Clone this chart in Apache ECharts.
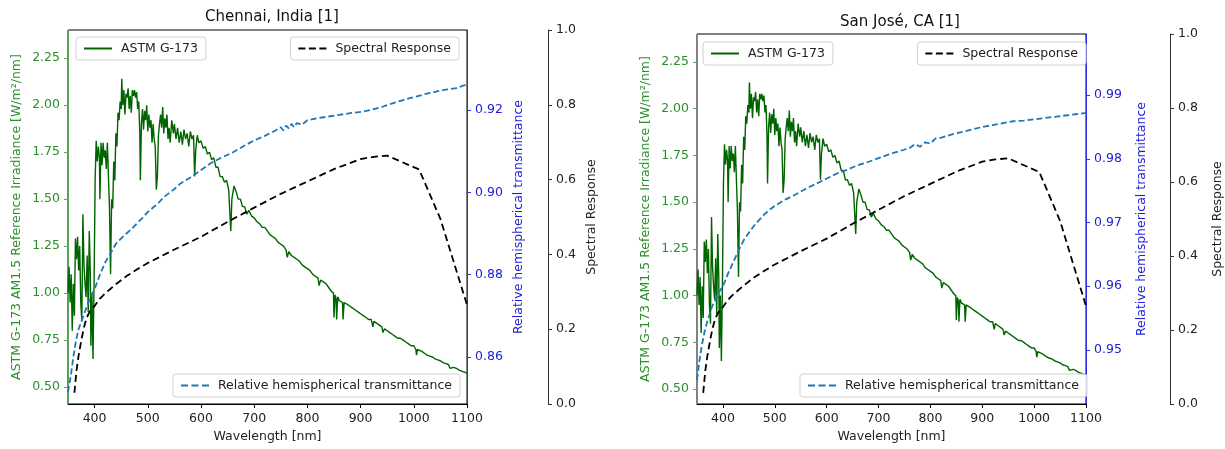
<!DOCTYPE html>
<html><head><meta charset="utf-8">
<script src="https://cdn.jsdelivr.net/npm/echarts@6/dist/echarts.min.js"></script>
<style>html,body{margin:0;padding:0;background:#fff}#c{width:1225px;height:449px}</style>
</head><body><div id="c"></div>
<script>
// ---- tick labels ----
const xTicks = [400, 500, 600, 700, 800, 900, 1000, 1100];
const irrTicks = [0.5, 0.75, 1.0, 1.25, 1.5, 1.75, 2.0, 2.25];
const chennaiTransTicks = [0.86, 0.88, 0.90, 0.92];
const sanJoseTransTicks = [0.95, 0.96, 0.97, 0.98, 0.99];
const srTicks = [0, 0.2, 0.4, 0.6, 0.8, 1.0];

// ---- ASTM G-173 irradiance (same in both panels) ----
const astmWl = [350,352,354,356,358,360,362,364,366,368,370,372,374,376,378,380,382,384,386,388,390,392,393,395,397,399,
401,403,405,407,409,410,412,414,416,418,420,422,424,426,428,430,432,434,436,438,440,442,444,446,448,450,451,453,455,457,459,
461,463,465,467,469,471,473,475,477,479,481,483,485,486,488,490,492,494,496,498,500,502,504,506,508,510,512,514,516,518,520,
522,524,526,528,530,532,534,536,538,540,542,545,548,550,553,556,559,562,565,568,571,574,577,580,583,586,588,590,593,596,600,
604,608,612,616,620,624,628,632,636,640,644,648,652,655,656,658,662,666,670,674,678,682,686,690,695,700,705,710,715,720,725,
730,735,740,745,750,755,760,762,765,770,775,780,785,790,795,800,805,810,815,820,822,825,830,835,840,845,849,850,852,854,855,857,
860,866,867,869,875,880,885,890,895,900,905,910,915,920,923,925,930,935,940,942,945,950,955,960,965,970,975,980,985,990,995,1000,
1004,1005,1007,1010,1015,1020,1025,1030,1035,1040,1045,1050,1055,1060,1065,1068,1070,1075,1080,1085,1090,1095,1100];
const astmIrr = [1.00,1.14,0.95,1.10,0.80,1.05,0.88,1.29,1.18,1.30,1.12,1.25,0.95,0.85,1.42,1.15,1.05,0.98,1.20,0.90,1.33,1.10,0.72,1.00,0.65,1.05,
1.60,1.81,1.70,1.78,1.72,1.50,1.80,1.68,1.80,1.72,1.76,1.66,1.80,1.62,1.45,1.10,1.50,1.45,1.70,1.60,1.85,1.78,1.96,1.92,2.02,1.98,2.14,2.00,2.08,1.95,2.06,
2.04,2.09,1.98,2.05,1.96,2.08,2.05,2.08,2.04,2.07,1.98,2.02,1.85,1.60,1.90,1.98,1.87,1.97,1.92,2.00,1.86,1.95,1.88,1.92,1.80,1.90,1.82,1.78,1.55,1.62,1.84,
1.90,1.95,1.88,1.99,1.85,1.93,1.88,1.95,1.82,1.88,1.80,1.92,1.85,1.90,1.82,1.88,1.80,1.86,1.79,1.87,1.82,1.85,1.78,1.86,1.82,1.84,1.62,1.76,1.84,1.80,1.81,
1.77,1.78,1.74,1.75,1.71,1.72,1.67,1.67,1.62,1.62,1.59,1.60,1.55,1.56,1.33,1.50,1.57,1.54,1.50,1.50,1.46,1.46,1.42,1.44,1.41,1.40,1.38,1.37,1.35,1.35,1.33,
1.31,1.30,1.29,1.27,1.26,1.25,1.23,1.19,1.22,1.20,1.19,1.18,1.17,1.15,1.14,1.13,1.12,1.10,1.09,1.08,1.04,1.07,1.06,1.05,1.03,1.01,1.00,0.87,0.99,0.97,0.86,0.98,
0.96,0.95,0.86,0.95,0.94,0.93,0.92,0.91,0.90,0.89,0.88,0.87,0.86,0.86,0.82,0.85,0.84,0.83,0.82,0.79,0.81,0.80,0.79,0.78,0.77,0.76,0.76,0.75,0.74,0.73,0.72,0.72,
0.70,0.67,0.70,0.70,0.69,0.68,0.67,0.665,0.66,0.65,0.645,0.64,0.63,0.625,0.62,0.60,0.61,0.605,0.60,0.59,0.585,0.58,0.575];

// ---- spectral response (same in both panels) ----
const srWl = [362,366,370,375,380,385,390,395,400,410,420,430,440,460,480,500,550,600,650,700,750,800,850,900,925,950,1010,1050,1100];
const srVal = [0.03,0.09,0.13,0.17,0.205,0.23,0.245,0.255,0.262,0.282,0.296,0.308,0.32,0.342,0.36,0.377,0.413,0.447,0.487,0.525,0.562,0.595,0.628,0.655,0.661,0.664,0.627,0.495,0.265];

// ---- relative hemispherical transmittance ----
const chennaiWl = [350,355,360,365,370,375,380,385,390,395,400,410,420,430,440,450,460,470,480,490,500,510,520,530,540,550,560,570,580,590,600,
620,640,660,680,700,720,740,750,755,760,765,770,775,780,790,800,820,840,860,880,900,920,940,960,980,1000,1020,1040,1060,1080,1100];
const chennaiTrans = [0.8515,0.8552,0.8600,0.8640,0.8668,0.8686,0.8703,0.8722,0.8738,0.8752,0.8765,0.8800,0.8830,0.8852,0.8875,0.8888,0.8900,0.8912,0.8925,0.8938,0.8952,0.8963,0.8974,0.8988,0.8998,0.9008,0.9020,0.9028,0.9036,0.9045,0.9054,
0.9072,0.9085,0.9097,0.9112,0.9126,0.9137,0.9150,0.9158,0.9150,0.9162,0.9155,0.9166,0.9158,0.9168,0.9164,0.9175,0.9180,0.9184,0.9188,0.9192,0.9195,0.9200,0.9207,0.9216,0.9224,0.9231,0.9238,0.9244,0.9249,0.9253,0.9262];
const sanJoseWl = [350,355,360,365,370,375,380,385,390,395,400,410,420,430,440,450,460,470,480,490,500,520,540,560,580,600,620,640,660,680,700,
720,740,760,770,780,790,800,810,820,840,860,880,900,920,940,960,980,1000,1020,1040,1060,1080,1100];
const sanJoseTrans = [0.9453,0.9485,0.9510,0.9530,0.9545,0.9558,0.9570,0.9578,0.9587,0.9594,0.9600,0.9620,0.9638,0.9656,0.9672,0.9684,0.9695,0.9704,0.9713,0.9720,0.9726,0.9736,0.9744,0.9753,0.9761,0.9769,0.9777,0.9783,0.9790,0.9795,0.9801,
0.9807,0.9812,0.9817,0.9823,0.9819,0.9826,0.9824,0.9832,0.9833,0.9838,0.9842,0.9846,0.9850,0.9853,0.9856,0.9859,0.9860,0.9862,0.9864,0.9866,0.9868,0.9870,0.9872];

// ---- chart ----
const FONT = 'DejaVu Sans';
const GREEN_LBL = '#2b8f2b', BLUE_LBL = '#2020d8', DARK = '#222';
const pairs = (xs, ys) => xs.map((x, i) => [x, ys[i]]);
const ICON_SOLID = 'path://M0,0h28v2h-28z';
const ICON_DASH = 'path://M0,0h7v2h-7zM10.5,0h7v2h-7zM21,0h7v2h-7z';

function yAxis(grid, pos, offset, min, max, ticks, color, lineColor, digits, name, nameGap) {
  return {
    type: 'value', gridIndex: grid, position: pos, offset: offset, min: min, max: max,
    name: name, nameLocation: 'middle', nameGap: nameGap, nameRotate: 90,
    nameTextStyle: { color: color, fontFamily: FONT, fontSize: 12.5 },
    axisLine: { show: true, onZero: false, lineStyle: { color: lineColor, width: 1 } },
    axisTick: { show: true, length: 4, lineStyle: { color: lineColor }, customValues: ticks },
    axisLabel: { color: color, fontFamily: FONT, fontSize: 12.5, margin: 8, customValues: ticks,
      formatter: v => Number(v).toFixed(digits) },
    splitLine: { show: false }
  };
}
function xAxis(grid) {
  return {
    type: 'value', gridIndex: grid, min: 350, max: 1100, position: 'bottom',
    name: 'Wavelength [nm]', nameLocation: 'middle', nameGap: 26,
    nameTextStyle: { color: DARK, fontFamily: FONT, fontSize: 12.5 },
    axisLine: { show: true, onZero: false, lineStyle: { color: '#000' } },
    axisTick: { show: true, length: 4, lineStyle: { color: '#000' }, customValues: xTicks },
    axisLabel: { color: DARK, fontFamily: FONT, fontSize: 12.5, margin: 8, customValues: xTicks,
      formatter: v => String(Math.round(v)) },
    splitLine: { show: false }
  };
}
function legend(name, icon, pos, top) {
  return Object.assign({
    data: [{ name: name, icon: icon }], top: top, orient: 'horizontal',
    padding: [5, 8], itemWidth: 28, itemHeight: 2, itemGap: 5,
    backgroundColor: 'rgba(255,255,255,0.85)', borderColor: '#d0d0d0', borderWidth: 1, borderRadius: 3,
    textStyle: { color: DARK, fontFamily: FONT, fontSize: 12.5, padding: [0, 0, 0, 4] }
  }, pos);
}
function lineSeries(name, xi, yi, data, color, width, type, z) {
  return { name: name, type: 'line', xAxisIndex: xi, yAxisIndex: yi, data: data,
    symbol: 'none', showSymbol: false, z: z,
    lineStyle: { color: color, width: width, type: type }, itemStyle: { color: color } };
}

const greenData = pairs(astmWl, astmIrr);
const srData = pairs(srWl, srVal);

const option = {
  animation: false,
  backgroundColor: '#fff',
  title: [
    { text: 'Chennai, India [1]', left: 267, top: 5, textAlign: 'center',
      textStyle: { fontFamily: FONT, fontSize: 15, fontWeight: 'normal', color: '#111' } },
    { text: 'San José, CA [1]', left: 895, top: 10, textAlign: 'center',
      textStyle: { fontFamily: FONT, fontSize: 15, fontWeight: 'normal', color: '#111' } }
  ],
  grid: [
    { left: 68, top: 30, width: 399, height: 374, show: true, borderColor: '#000', borderWidth: 1, backgroundColor: 'transparent' },
    { left: 697, top: 34, width: 396, height: 370, show: true, borderColor: '#000', borderWidth: 1, backgroundColor: 'transparent' }
  ],
  xAxis: [xAxis(0), xAxis(1)],
  yAxis: [
    yAxis(0, 'left', 0, 0.41, 2.40, irrTicks, GREEN_LBL, '#5aa55a', 2, 'ASTM G-173 AM1.5 Reference Irradiance [W/m²/nm]', 45),
    yAxis(0, 'right', 0, 0.8486, 0.9394, chennaiTransTicks, BLUE_LBL, '#3030e0', 2, 'Relative hemispherical transmittance', 45),
    yAxis(0, 'right', 81, 0, 1, srTicks, DARK, '#333', 1, 'Spectral Response', 37),
    yAxis(1, 'left', 0, 0.42, 2.40, irrTicks, GREEN_LBL, '#5aa55a', 2, 'ASTM G-173 AM1.5 Reference Irradiance [W/m²/nm]', 45),
    yAxis(1, 'right', 0, 0.9415, 0.9996, sanJoseTransTicks, BLUE_LBL, '#3030e0', 2, 'Relative hemispherical transmittance', 49),
    yAxis(1, 'right', 84, 0, 1, srTicks, DARK, '#333', 1, 'Spectral Response', 41)
  ],
  legend: [
    legend('ASTM G-173', ICON_SOLID, { left: 76 }, 37),
    legend('Spectral Response', ICON_DASH, { right: 766 }, 37),
    legend('Relative hemispherical transmittance', ICON_DASH, { right: 765 }, 374),
    legend('ASTM G-173', ICON_SOLID, { left: 703 }, 42),
    legend('Spectral Response', ICON_DASH, { right: 139 }, 42),
    legend('Relative hemispherical transmittance', ICON_DASH, { right: 138 }, 374)
  ],
  series: [
    lineSeries('ASTM G-173', 0, 0, greenData, '#006400', 1.4, 'solid', 2),
    lineSeries('Relative hemispherical transmittance', 0, 1, pairs(chennaiWl, chennaiTrans), '#1f77b4', 1.8, [6, 3], 3),
    lineSeries('Spectral Response', 0, 2, srData, '#000000', 1.8, [7, 4], 4),
    lineSeries('ASTM G-173', 1, 3, greenData, '#006400', 1.4, 'solid', 2),
    lineSeries('Relative hemispherical transmittance', 1, 4, pairs(sanJoseWl, sanJoseTrans), '#1f77b4', 1.8, [6, 3], 3),
    lineSeries('Spectral Response', 1, 5, srData, '#000000', 1.8, [7, 4], 4)
  ]
};
const chart = echarts.init(document.getElementById('c'), null, { renderer: 'canvas' });
chart.setOption(option);
</script></body></html>
